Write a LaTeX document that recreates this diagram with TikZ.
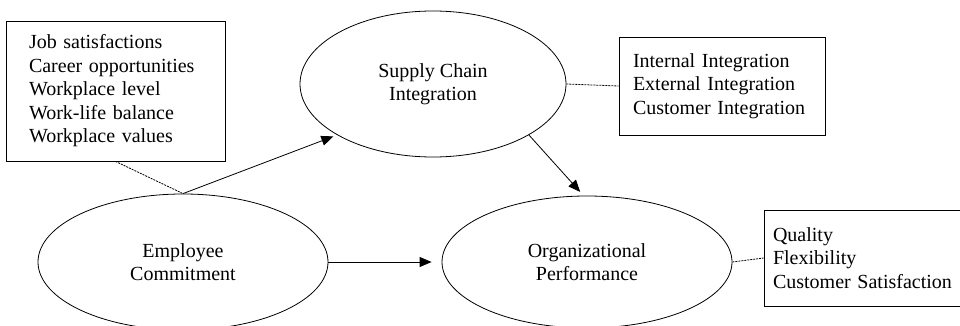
\documentclass[tikz,border=0pt]{standalone}
\usepackage{fontspec}
\setmainfont{Liberation Serif}
\usetikzlibrary{shapes.geometric, arrows.meta, positioning}

\begin{document}
\begin{tikzpicture}[x=1pt, y=-1pt,
  construct/.style={ellipse, draw, line width=0.8pt, align=center, inner sep=0pt},
  factors/.style={rectangle, draw, line width=0.8pt, align=left, inner ysep=0pt},
  link/.style={-{Triangle[length=12pt, width=10pt]}, line width=0.8pt},
  loading/.style={line width=0.8pt, dash pattern=on 2pt off 1pt}]
\useasboundingbox (0,0) rectangle (960,326);
\fontsize{20}{23.5}\selectfont
\node[construct, minimum width=266pt, minimum height=146pt] (sci) at (433,84) {Supply Chain\\Integration};
\node[construct, minimum width=290pt, minimum height=136pt] (emp) at (183,262) {Employee\\Commitment};
\node[construct, minimum width=290pt, minimum height=132pt] (org) at (587,262) {Organizational\\Performance};
\node[factors, text width=173pt, inner xsep=23pt, minimum height=140pt] (empbox) at (115.5,91) {Job satisfactions\\Career opportunities\\Workplace level\\Work-life balance\\Workplace values};
\node[factors, text width=178pt, inner xsep=14pt, minimum height=98pt] (scibox) at (722,86) {Internal Integration\\External Integration\\Customer Integration};
\node[factors, text width=190pt, inner xsep=9pt, minimum height=96pt] (orgbox) at (868,258) {Quality\\Flexibility\\Customer Satisfaction};
\draw[link, shorten >=4pt] (emp.north) -- (sci.208);
\draw[link, shorten >=5pt] (sci.332) -- (org.93);
\draw[link, shorten >=10pt] (emp.east) -- (org.west);
\draw[loading] (empbox.south) -- (emp.north);
\draw[loading] (sci.east) -- (scibox.west);
\draw[loading] (org.east) -- (orgbox.west);
\end{tikzpicture}
\end{document}
